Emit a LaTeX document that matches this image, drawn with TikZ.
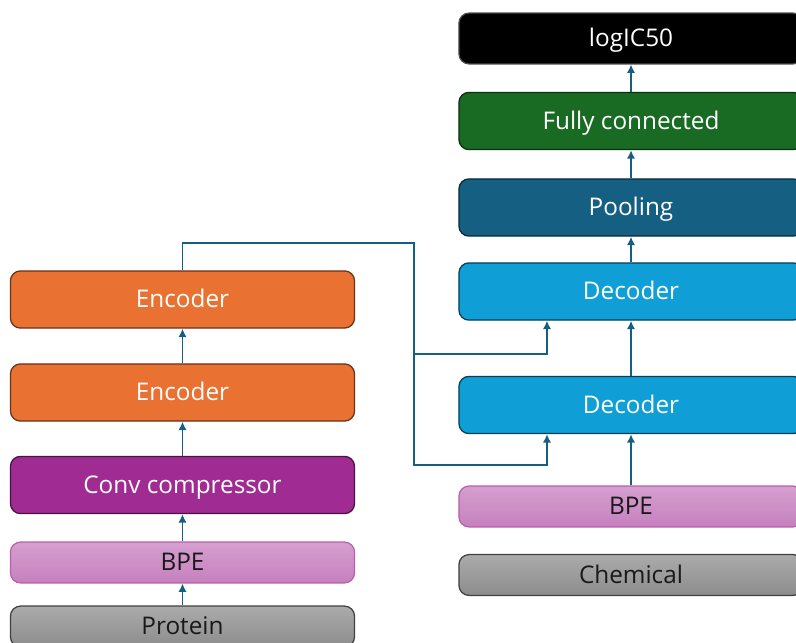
\documentclass[tikz,border=0pt]{standalone}
\usepackage{fontspec}
\setmainfont{Open Sans}
\usetikzlibrary{arrows.meta}
\definecolor{accblue}{HTML}{156082}
\definecolor{accorange}{HTML}{E97132}
\definecolor{accgreen}{HTML}{196B24}
\definecolor{acccyan}{HTML}{0F9ED5}
\definecolor{accpurple}{HTML}{A02B93}
\begin{document}
\begin{tikzpicture}[x=0.025cm,y=-0.025cm,
  box/.style={rounded corners=0.25cm,line width=0.9pt,minimum width=8.6cm,minimum height=1.43cm,
    inner sep=0pt,text height=11.5pt,text depth=0pt,font=\fontsize{17.3}{20}\selectfont,text=white},
  thin box/.style={box,minimum height=1.02cm},
  tok/.style={thin box,top color=accpurple!45!white,bottom color=accpurple!60!white,draw=accpurple!75!white,text=black!90},
  src/.style={thin box,top color=black!33,bottom color=black!45,draw=black!75,text=black!90},
  link/.style={accblue,line width=1.3pt},
  arr/.style={link,-{Latex[length=6pt,width=6pt]}}]
\path[use as bounding box,clip] (0,0) rectangle (796,643);
% protein branch
\node[src] (prot) at (182.5,626.5) {Protein};
\node[tok] (bpeP) at (182.5,562.5) {BPE};
\node[box,fill=accpurple,draw=accpurple!45!black] (conv) at (182.5,485) {Conv compressor};
\node[box,fill=accorange,draw=accorange!45!black] (enc1) at (182.5,392.5) {Encoder};
\node[box,fill=accorange,draw=accorange!45!black] (enc2) at (182.5,299.5) {Encoder};
% chemical branch
\node[src] (chem) at (631,575) {Chemical};
\node[tok] (bpeC) at (631,506.5) {BPE};
\node[box,fill=acccyan,draw=acccyan!40!black] (dec1) at (631,405) {Decoder};
\node[box,fill=acccyan,draw=acccyan!40!black] (dec2) at (631,291.5) {Decoder};
\node[box,fill=accblue,draw=accblue!45!black] (pool) at (631,207.5) {Pooling};
\node[box,fill=accgreen,draw=accgreen!45!black] (fc) at (631,121) {Fully connected};
\node[box,minimum height=1.27cm,fill=black,draw=black!70] (out) at (631,38.5) {logIC50};
% arrows
\draw[arr] (prot) -- (bpeP);
\draw[arr] (bpeP) -- (conv);
\draw[arr] (conv) -- (enc1);
\draw[arr] (enc1) -- (enc2);
\draw[arr] (bpeC) -- (dec1);
\draw[arr] (dec1) -- (dec2);
\draw[arr] (dec2) -- (pool);
\draw[arr] (pool) -- (fc);
\draw[arr] (fc) -- (out);
% encoder output into both decoders
\coordinate (split) at (414,354);
\draw[arr] (enc2.north) |- (414,243) -- (414,465) -| ([xshift=-2.1cm]dec1.south);
\draw[arr] (split) -| ([xshift=-2.1cm]dec2.south);
\end{tikzpicture}
\end{document}
